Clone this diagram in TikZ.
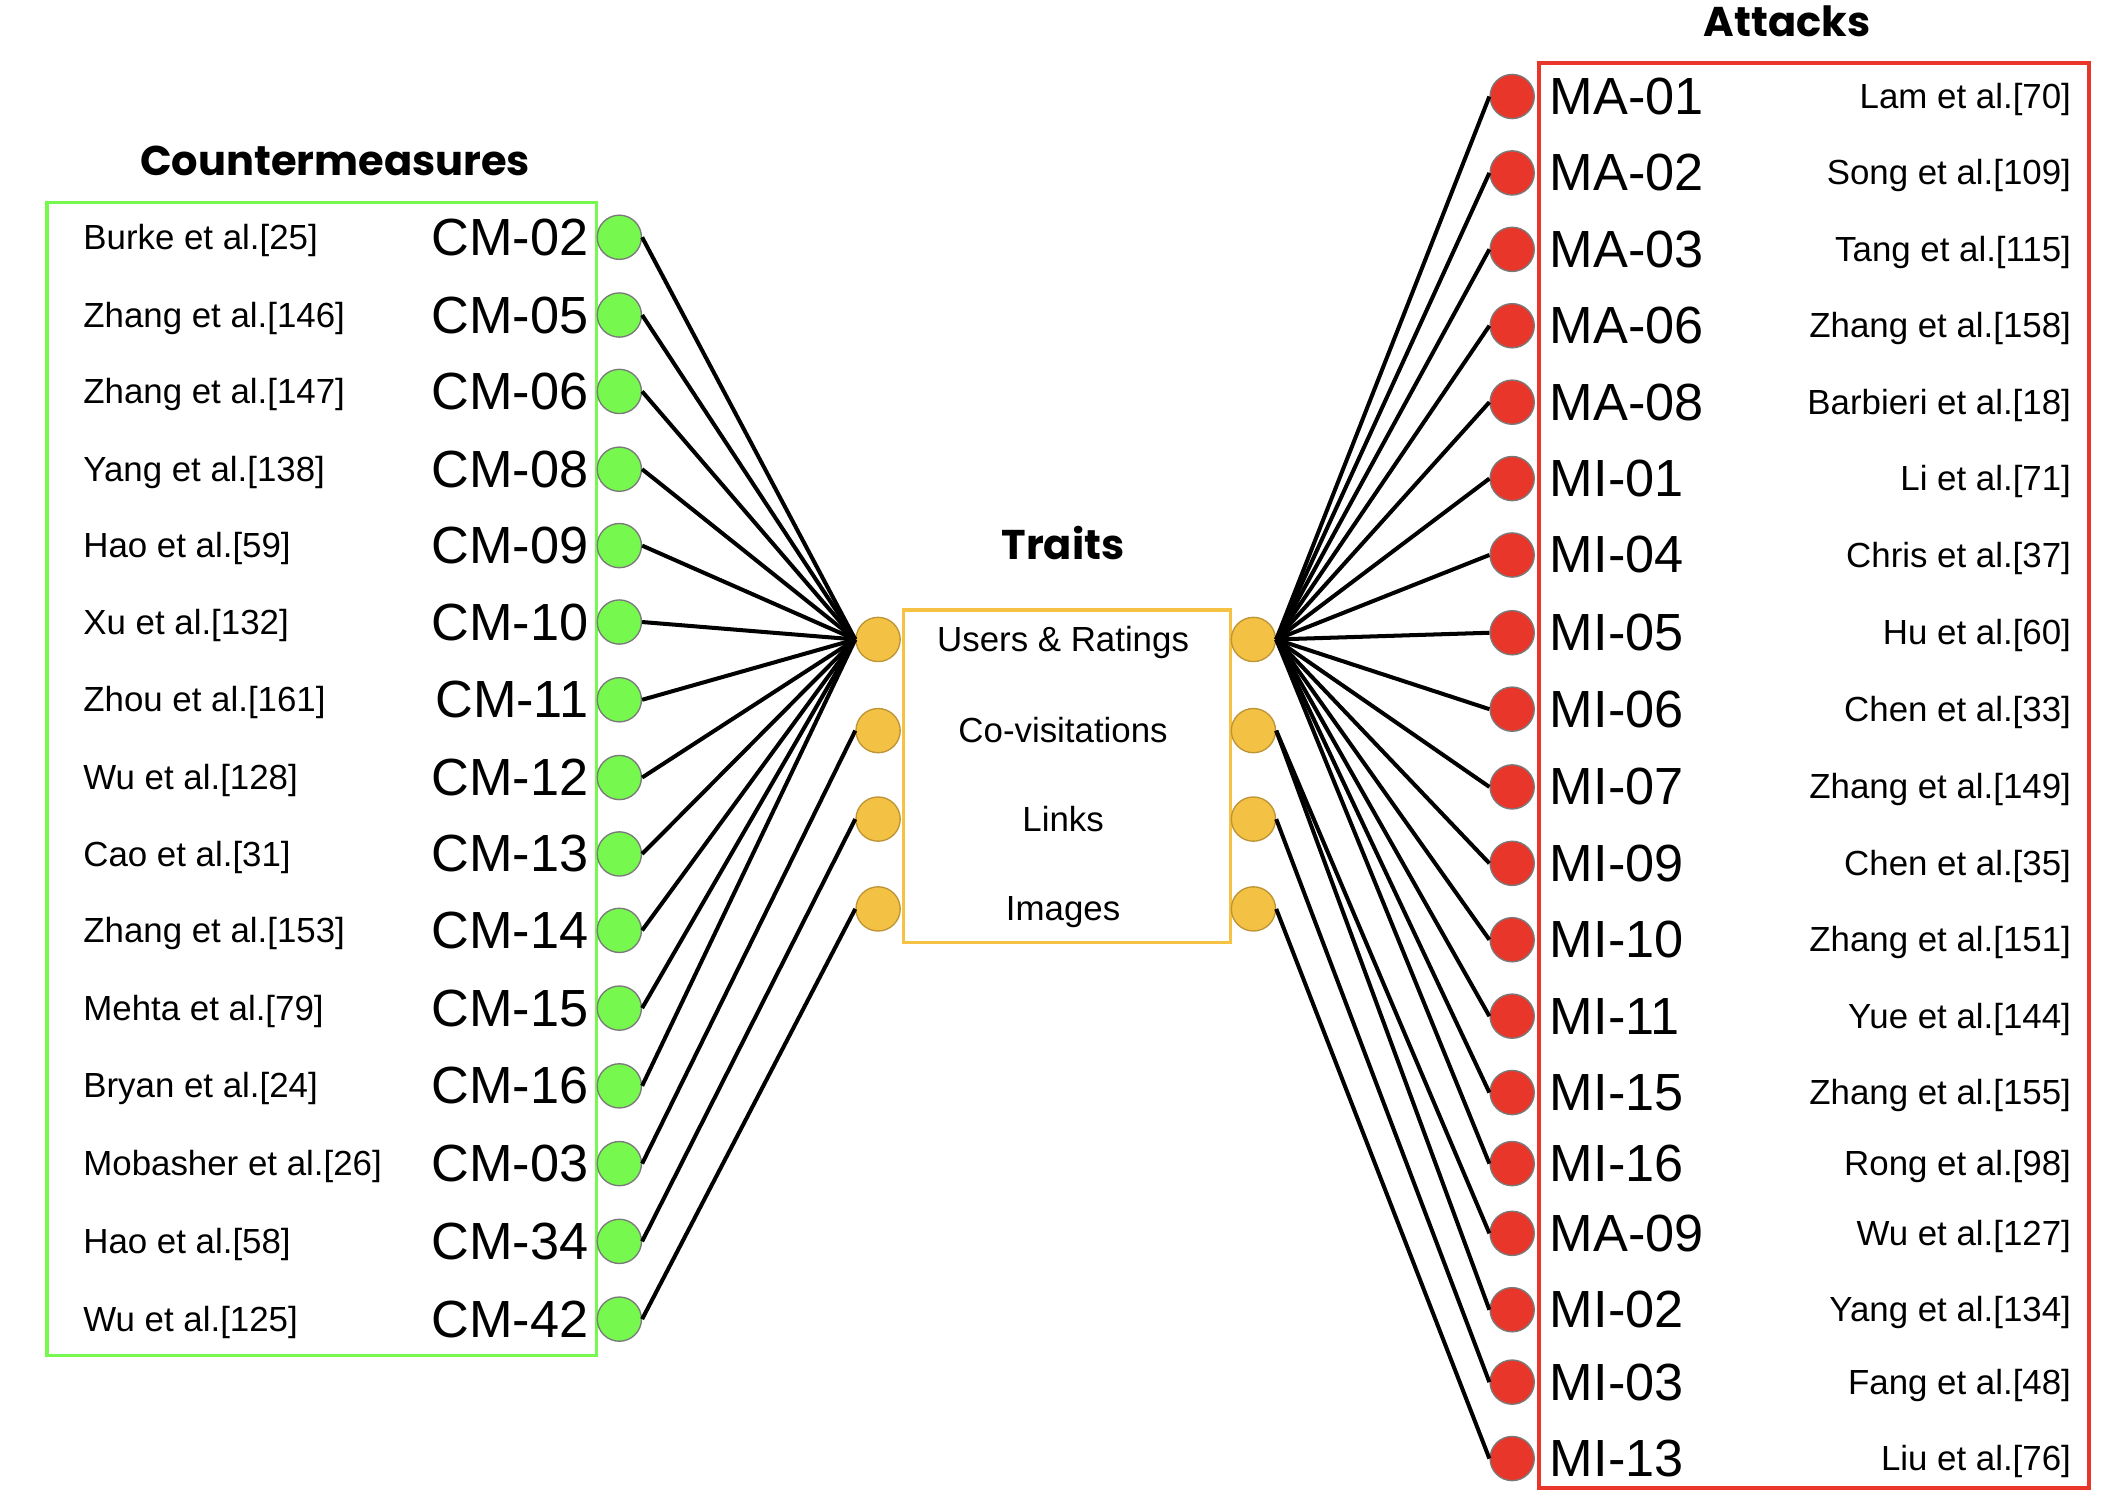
\documentclass[tikz,border=0pt]{standalone}
\usepackage{fontspec}
\setmainfont{Liberation Sans}
\newfontfamily\titlefam{Poppins}
\usepackage{tikz}
\usetikzlibrary{positioning}

\definecolor{cmgreen}{HTML}{76F84E}
\definecolor{atkred}{HTML}{E8372A}
\definecolor{traitgold}{HTML}{F3C244}
\definecolor{traitedge}{HTML}{BE9434}
\definecolor{boxgold}{HTML}{F5C243}
\definecolor{dotedge}{HTML}{7A7A7A}

\newcommand\codefont{\fontsize{39}{40}\selectfont}
\newcommand\reffont{\fontsize{26}{27}\selectfont}
\newcommand\headfont{\titlefam\bfseries\fontsize{31}{32}\selectfont}

\begin{document}
\begin{tikzpicture}[x=1pt,y=-1pt,
basedot/.style={circle,draw=dotedge,line width=1pt,minimum size=33pt,inner sep=0pt},
cmdot/.style={basedot,fill=cmgreen},
atkdot/.style={basedot,fill=atkred},
traitdot/.style={basedot,fill=traitgold,draw=traitedge},
codelabel/.style={inner sep=0pt,font=\codefont},
reflabel/.style={inner sep=0pt,font=\reffont},
heading/.style={inner sep=0pt,font=\headfont},
link/.style={line width=3pt}]
\useasboundingbox (0,0) rectangle (1568,1123);

\node[heading] (cmtitle) at (250,120) {Countermeasures};
\node[heading] (traittitle) at (793,405) {Traits};
\node[heading] (atktitle) at (1333,16) {Attacks};

\draw[cmgreen,line width=2.5pt] (35,151) rectangle (445,1011);
\draw[boxgold,line width=2.5pt] (674,455) rectangle (918,703);
\draw[atkred,line width=3pt] (1148,47) rectangle (1558,1110);

\foreach \y/\cmid/\who [count=\i] in {
177/CM-02/Burke et al.[25],
235/CM-05/Zhang et al.[146],
292/CM-06/Zhang et al.[147],
350/CM-08/Yang et al.[138],
407/CM-09/Hao et al.[59],
464/CM-10/Xu et al.[132],
522/CM-11/Zhou et al.[161],
580/CM-12/Wu et al.[128],
637/CM-13/Cao et al.[31],
694/CM-14/Zhang et al.[153],
752/CM-15/Mehta et al.[79],
810/CM-16/Bryan et al.[24],
868/CM-03/Mobasher et al.[26],
926/CM-34/Hao et al.[58],
984/CM-42/Wu et al.[125]} {
  \node[cmdot] (cm\i) at (462,\y) {};
  \node[codelabel,left=6pt of cm\i] (cmcode\i) {\cmid};
  \node[reflabel,anchor=base west] (cmref\i) at (62,\y+9) {\who};
}

\foreach \y/\trait [count=\i] in {477/Users \& Ratings,545/Co-visitations,611/Links,678/Images} {
  \node[traitdot] (tl\i) at (655,\y) {};
  \node[traitdot] (tr\i) at (935,\y) {};
  \node[reflabel,anchor=base] (trait\i) at (793,\y+9) {\trait};
}

\foreach \y/\atkid/\who [count=\i] in {
72/MA-01/Lam et al.[70],
129/MA-02/Song et al.[109],
186/MA-03/Tang et al.[115],
243/MA-06/Zhang et al.[158],
300/MA-08/Barbieri et al.[18],
357/MI-01/Li et al.[71],
414/MI-04/Chris et al.[37],
472/MI-05/Hu et al.[60],
529/MI-06/Chen et al.[33],
587/MI-07/Zhang et al.[149],
644/MI-09/Chen et al.[35],
701/MI-10/Zhang et al.[151],
758/MI-11/Yue et al.[144],
815/MI-15/Zhang et al.[155],
868/MI-16/Rong et al.[98],
920/MA-09/Wu et al.[127],
977/MI-02/Yang et al.[134],
1031/MI-03/Fang et al.[48],
1088/MI-13/Liu et al.[76]} {
  \node[atkdot] (atk\i) at (1128,\y) {};
  \node[codelabel,right=11pt of atk\i] (atkcode\i) {\atkid};
  \node[reflabel,anchor=base east] (atkref\i) at (1545,\y+9) {\who};
}

\foreach \i in {1,...,12} \draw[link] (cm\i.east) -- (tl1.west);
\foreach \i/\j in {13/2,14/3,15/4} \draw[link] (cm\i.east) -- (tl\j.west);
\foreach \i in {1,...,15} \draw[link] (tr1.east) -- (atk\i.west);
\foreach \i/\j in {16/2,17/2,18/3,19/4} \draw[link] (tr\j.east) -- (atk\i.west);
\end{tikzpicture}
\end{document}
